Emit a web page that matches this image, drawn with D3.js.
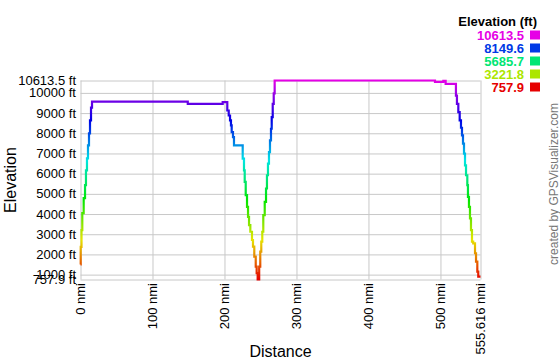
<!DOCTYPE html>
<html>
<head>
<meta charset="utf-8">
<script src="https://cdn.jsdelivr.net/npm/d3@7"></script>
<style>
body { margin: 0; background: #fff; }
text { font-family: "Liberation Sans", Arial, sans-serif; }
</style>
</head>
<body>
<div class="chart"></div>
<script>
// profile: at distance d (nmi) the elevation steps to e (ft)
var distNmi = [0, 0.3, 1.4, 2.5, 4.4, 6.3, 7.6, 9.0, 10.4, 11.8, 13.2, 14.6, 16.0,
	149.0, 197.5, 203.9, 205.9, 207.7, 209.0, 210.0, 211.8, 213.2,
	225.3, 227.1, 228.1, 229.5, 231.3, 232.7, 234.1, 235.9, 238.2, 239.6, 241.4, 243.4, 244.7, 246.1,
	248.2, 249.7, 251.1, 252.5, 253.9, 255.9, 257.7, 259.0, 260.4, 261.8, 263.2, 264.6, 265.6, 267.0, 268.4, 269.7,
	492.4, 504.0, 507.2,
	521.5, 522.9, 524.8, 526.7, 528.5, 529.9, 531.3, 532.7, 534.1, 535.5, 537.3, 538.2, 539.6, 541.0, 542.4, 543.8,
	545.5, 548.0, 549.4, 551.2, 552.5, 555.616];
var elevFt = [1500, 2370, 3207, 4046, 4786, 5427, 6167, 6759, 7400, 7992, 8634, 9275, 9571,
	9457, 9540, 9127, 8880, 8634, 8387, 8056, 7810, 7400,
	6744, 6167, 5590, 4934, 4357, 3863, 3454, 3123, 2714, 2383, 1890, 1397, 1071, 757.9,
	1397, 2137, 2630, 3123, 3947, 4603, 5264, 5920, 6498, 7070, 7647, 8224, 8796, 9457, 9980, 10613.5,
	10549, 10600, 10450,
	9867, 9457, 9043, 8634, 8273, 7894, 7484, 6991, 6414, 5920, 5427, 4850, 4357, 3784, 3207, 2630,
	2550, 2058, 1644, 1150, 900, 900];

var xTicks = [0, 100, 200, 300, 400, 500, 555.616];
var xTickLabels = ["0 nmi", "100 nmi", "200 nmi", "300 nmi", "400 nmi", "500 nmi", "555.616 nmi"];
var yTicks = [757.9, 1000, 2000, 3000, 4000, 5000, 6000, 7000, 8000, 9000, 10000, 10613.5];
var yTickLabels = ["757.9 ft", "1000 ft", "2000 ft", "3000 ft", "4000 ft", "5000 ft", "6000 ft",
	"7000 ft", "8000 ft", "9000 ft", "10000 ft", "10613.5 ft"];
var legendValues = [10613.5, 8149.6, 5685.7, 3221.8, 757.9];

var eMin = 757.9, eMax = 10613.5;

var svg = d3.select(".chart").append("svg")
	.attr("width", 560)
	.attr("height", 360);

var x = d3.scaleLinear().domain([0, 555.616]).range([80.5, 480.5]);
var y = d3.scaleLinear().domain([eMin, eMax]).range([279.5, 80.5]);

function elevColor(e) {
	return d3.hsl(300 * (e - eMin) / (eMax - eMin), 1, 0.45).toString();
}

// grid
svg.append("g")
	.attr("transform", "translate(0,279.5)")
	.call(d3.axisBottom(x).tickValues(xTicks).tickSize(-199).tickFormat(""))
	.call(function(g) {
		g.select(".domain").remove();
		g.selectAll("line").attr("stroke", "#c8c8c8");
	});
svg.append("g")
	.attr("transform", "translate(80.5,0)")
	.call(d3.axisLeft(y).tickValues(yTicks).tickSize(-400).tickFormat(""))
	.call(function(g) {
		g.select(".domain").remove();
		g.selectAll("line").attr("stroke", "#c8c8c8");
	});

// tick labels
svg.append("g").selectAll("text")
	.data(yTicks)
	.join("text")
	.attr("x", 76)
	.attr("y", function(d) { return y(d); })
	.attr("dy", "0.35em")
	.attr("text-anchor", "end")
	.style("font-size", "13px")
	.text(function(d, i) { return yTickLabels[i]; });

svg.append("g").selectAll("text")
	.data(xTicks)
	.join("text")
	.attr("transform", function(d) { return "translate(" + x(d) + ",283) rotate(-90)"; })
	.attr("dy", "0.35em")
	.attr("text-anchor", "end")
	.style("font-size", "13px")
	.text(function(d, i) { return xTickLabels[i]; });

// colour by elevation
var grad = svg.append("defs").append("linearGradient")
	.attr("id", "elevGrad")
	.attr("gradientUnits", "userSpaceOnUse")
	.attr("x1", 0).attr("x2", 0)
	.attr("y1", y(eMin)).attr("y2", y(eMax));
grad.selectAll("stop")
	.data(d3.range(0, 1.0001, 0.05))
	.join("stop")
	.attr("offset", function(t) { return t; })
	.attr("stop-color", function(t) { return elevColor(eMin + t * (eMax - eMin)); });

var line = d3.line()
	.x(function(d) { return x(distNmi[d]); })
	.y(function(d) { return y(elevFt[d]); })
	.curve(d3.curveStepAfter);

svg.append("path")
	.datum(d3.range(distNmi.length))
	.attr("d", line)
	.attr("fill", "none")
	.attr("stroke", "url(#elevGrad)")
	.attr("stroke-width", 2.2);

// titles
svg.append("text")
	.attr("transform", "translate(15.5,180) rotate(-90)")
	.attr("text-anchor", "middle")
	.style("font-size", "16px")
	.text("Elevation");
svg.append("text")
	.attr("x", 280.5)
	.attr("y", 357)
	.attr("text-anchor", "middle")
	.style("font-size", "16px")
	.text("Distance");

// legend
svg.append("text")
	.attr("x", 537)
	.attr("y", 26)
	.attr("text-anchor", "end")
	.style("font-size", "13px")
	.style("font-weight", "bold")
	.text("Elevation (ft)");
var leg = svg.append("g").selectAll("g")
	.data(legendValues)
	.join("g")
	.attr("transform", function(d, i) { return "translate(0," + (39.5 + i * 13) + ")"; });
leg.append("text")
	.attr("x", 524)
	.attr("text-anchor", "end")
	.style("font-size", "13px")
	.style("font-weight", "bold")
	.attr("fill", elevColor)
	.text(function(d) { return d3.format(".1f")(d); });
leg.append("rect")
	.attr("x", 530)
	.attr("y", -9)
	.attr("width", 10)
	.attr("height", 9)
	.attr("fill", elevColor);

svg.append("text")
	.attr("transform", "translate(557.5,184) rotate(-90)")
	.attr("text-anchor", "middle")
	.style("font-size", "12px")
	.attr("fill", "#777")
	.text("created by GPSVisualizer.com");
</script>
</body>
</html>
